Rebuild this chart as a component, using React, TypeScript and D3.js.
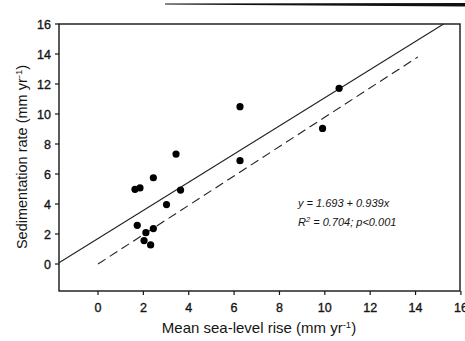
import { useEffect, useRef } from 'react';
import * as d3 from 'd3';

// Observed sites: mean sea-level rise vs sedimentation rate
const seaLevelRise = [6.26, 3.44, 2.44, 1.63, 1.85, 3.64, 3.02, 6.26, 1.73, 2.44, 2.11, 2.03, 2.32, 9.9, 10.63];
const sedimentation = [10.49, 7.33, 5.75, 4.98, 5.07, 4.93, 3.96, 6.89, 2.58, 2.36, 2.09, 1.56, 1.27, 9.04, 11.71];

// Regression y = a + b x
const intercept = 1.693;
const slope = 0.939;

// 1:1 reference line (dashed)
const refX = [0, 14.1];
const refY = [0, 13.8];

const xTicks = [0, 2, 4, 6, 8, 10, 12, 14, 16];
const yTicks = [0, 2, 4, 6, 8, 10, 12, 14, 16];

const width = 465;
const height = 341;

export default function App() {
  const svgRef = useRef<SVGSVGElement>(null);

  useEffect(() => {
    if (!svgRef.current) return;
    d3.select(svgRef.current).selectAll('*').remove();

    const left = 59, right = 460, top = 24, bottom = 291;
    const ink = '#151515';

    const x = d3.scaleLinear().domain([-1.72, 15.96]).range([left, right]);
    const y = d3.scaleLinear().domain([-1.8, 16]).range([bottom, top]);

    const svg = d3.select(svgRef.current)
      .attr('width', width)
      .attr('height', height)
      .style('font-family', 'Arial, "Liberation Sans", sans-serif');

    svg.append('rect')
      .attr('width', width)
      .attr('height', height)
      .attr('fill', '#ffffff');

    // scan edge at top
    svg.append('path')
      .attr('d', `M165,3.5 L465,3 L465,6.5 L165,4.5 Z`)
      .attr('fill', '#111');

    // frame
    svg.append('rect')
      .attr('x', left)
      .attr('y', top)
      .attr('width', right - left)
      .attr('height', bottom - top)
      .attr('fill', 'none')
      .attr('stroke', ink)
      .attr('stroke-width', 1.4);

    // y ticks
    const yg = svg.append('g');
    yTicks.forEach(t => {
      yg.append('line')
        .attr('x1', left - 4).attr('x2', left)
        .attr('y1', y(t)).attr('y2', y(t))
        .attr('stroke', ink).attr('stroke-width', 1.2);
      yg.append('text')
        .attr('x', left - 8)
        .attr('y', y(t) + 4.5)
        .attr('text-anchor', 'end')
        .style('font-size', '12.5px')
        .style('fill', ink)
        .style('stroke', ink)
        .style('stroke-width', '0.35px')
        .text(t);
    });

    // x ticks
    const xg = svg.append('g');
    xTicks.forEach(t => {
      xg.append('line')
        .attr('x1', x(t)).attr('x2', x(t))
        .attr('y1', bottom).attr('y2', bottom + 4)
        .attr('stroke', ink).attr('stroke-width', 1.2);
      xg.append('text')
        .attr('x', x(t))
        .attr('y', bottom + 21)
        .attr('text-anchor', 'middle')
        .style('font-size', '12.5px')
        .style('fill', ink)
        .style('stroke', ink)
        .style('stroke-width', '0.35px')
        .text(t);
    });

    // regression line, clipped to the frame
    const xStart = -1.72;
    const xEnd = (16 - intercept) / slope;
    const line = d3.line<[number, number]>()
      .x(d => x(d[0]))
      .y(d => y(d[1]));

    svg.append('path')
      .attr('d', line([[xStart, intercept + slope * xStart], [xEnd, intercept + slope * xEnd]]))
      .attr('fill', 'none')
      .attr('stroke', '#222')
      .attr('stroke-width', 1.1);

    svg.append('path')
      .attr('d', line(refX.map((v, i) => [v, refY[i]] as [number, number])))
      .attr('fill', 'none')
      .attr('stroke', '#222')
      .attr('stroke-width', 1.1)
      .attr('stroke-dasharray', '9,5');

    // points
    svg.append('g')
      .selectAll('circle')
      .data(seaLevelRise.map((v, i) => [v, sedimentation[i]]))
      .enter()
      .append('circle')
      .attr('cx', d => x(d[0]))
      .attr('cy', d => y(d[1]))
      .attr('r', 3.6)
      .attr('fill', '#000');

    // equation
    svg.append('text')
      .attr('x', 298)
      .attr('y', 207)
      .style('font-size', '11px')
      .style('font-style', 'italic')
      .style('fill', ink)
      .text('y = 1.693 + 0.939x');

    const r2 = svg.append('text')
      .attr('x', 298)
      .attr('y', 226)
      .style('font-size', '11px')
      .style('font-style', 'italic')
      .style('fill', ink);
    r2.append('tspan').text('R');
    r2.append('tspan').attr('dy', -4).style('font-size', '7.5px').text('2');
    r2.append('tspan').attr('dy', 4).text(' = 0.704; p<0.001');

    // axis titles
    const xt = svg.append('text')
      .attr('x', 259)
      .attr('y', 333)
      .attr('text-anchor', 'middle')
      .style('font-size', '15px')
      .style('fill', ink);
    xt.append('tspan').text('Mean sea-level rise (mm yr');
    xt.append('tspan').attr('dy', -5).style('font-size', '9.5px').text('-1');
    xt.append('tspan').attr('dy', 5).text(')');

    const yt = svg.append('text')
      .attr('transform', `translate(27, 157) rotate(-90)`)
      .attr('text-anchor', 'middle')
      .style('font-size', '14.5px')
      .style('fill', ink);
    yt.append('tspan').text('Sedimentation rate (mm yr');
    yt.append('tspan').attr('dy', -5).style('font-size', '9.5px').text('-1');
    yt.append('tspan').attr('dy', 5).text(')');
  }, []);

  return (
    <svg
      ref={svgRef}
      style={{ position: 'absolute', left: 0, top: 0, display: 'block' }}
    />
  );
}
